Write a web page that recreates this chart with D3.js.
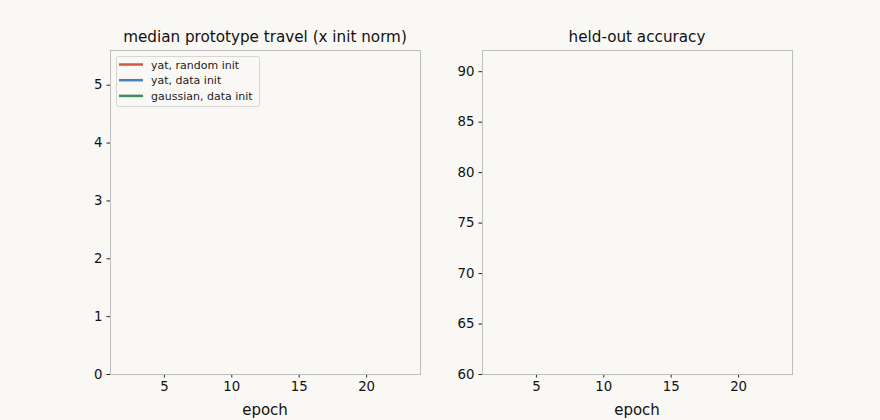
<!DOCTYPE html>
<html>
<head>
<meta charset="utf-8">
<script src="https://cdn.jsdelivr.net/npm/d3@7"></script>
<style>
  body { margin: 0; background: #f9f8f5; }
  svg { display: block; font-family: "DejaVu Sans", sans-serif; }
  .tick text { font-size: 13.3px; fill: #111; font-family: "DejaVu Sans", sans-serif; }
  .tick line { stroke: #222; }
</style>
</head>
<body>
<div id="chart"></div>
<script>
// the reference shows empty axes: the series have no visible points
var seriesNames = ['yat, random init', 'yat, data init', 'gaussian, data init'];
var seriesColors = ['#cc5a3c', '#4a80bd', '#3d8b5f'];

var epochDomain = [1, 24];
var epochTicks = [5, 10, 15, 20];

var travelDomain = [0, 5.6];
var travelTicks = [0, 1, 2, 3, 4, 5];
var accDomain = [60, 92.1];
var accTicks = [60, 65, 70, 75, 80, 85, 90];

// one array of {epoch, value} per series, none visible in the picture
var travelSeries = [[], [], []];
var accSeries = [[], [], []];

var width = 880, height = 420;

var svg = d3.select('#chart').append('svg')
  .attr('width', width)
  .attr('height', height);

svg.append('rect').attr('width', width).attr('height', height).attr('fill', '#f9f8f5');

function drawPanel(left, title, yDomain, yTicks, series, withLegend) {
  var top = 50, w = 310, h = 324;

  var x = d3.scaleLinear().domain(epochDomain).range([0, w]);
  var y = d3.scaleLinear().domain(yDomain).range([h, 0]);

  var g = svg.append('g').attr('transform', 'translate(' + left + ',' + top + ')');

  var line = d3.line()
    .x(function(d) { return x(d.epoch); })
    .y(function(d) { return y(d.value); });

  series.forEach(function(s, i) {
    if (s.length === 0) return;
    g.append('path')
      .attr('d', line(s))
      .attr('fill', 'none')
      .attr('stroke', seriesColors[i])
      .attr('stroke-width', 2);
  });

  var xAxis = g.append('g')
    .attr('transform', 'translate(0,' + h + ')')
    .call(d3.axisBottom(x).tickValues(epochTicks).tickSize(3.5).tickPadding(4));
  xAxis.select('.domain').remove();

  var yAxis = g.append('g')
    .call(d3.axisLeft(y).tickValues(yTicks).tickSize(3.5).tickPadding(4).tickFormat(d3.format('d')));
  yAxis.select('.domain').remove();

  g.append('rect')
    .attr('x', 0.5).attr('y', 0.5).attr('width', w).attr('height', h)
    .attr('fill', 'none')
    .attr('stroke', '#bdbdbd')
    .attr('stroke-width', 1);

  g.append('text')
    .attr('x', w / 2).attr('y', -8)
    .attr('text-anchor', 'middle')
    .attr('font-size', 15.2)
    .attr('fill', '#111')
    .text(title);

  g.append('text')
    .attr('x', w / 2).attr('y', h + 41)
    .attr('text-anchor', 'middle')
    .attr('font-size', 15)
    .attr('fill', '#111')
    .text('epoch');

  if (withLegend) {
    var lg = g.append('g').attr('transform', 'translate(6,6)');
    lg.append('rect')
      .attr('x', 0.5).attr('y', 0.5).attr('width', 143).attr('height', 50)
      .attr('rx', 2)
      .attr('fill', '#f9f8f5')
      .attr('stroke', '#d6d6d6');
    seriesNames.forEach(function(name, i) {
      var yy = 8.5 + i * 15.7;
      lg.append('line')
        .attr('x1', 3).attr('x2', 27)
        .attr('y1', yy).attr('y2', yy)
        .attr('stroke', seriesColors[i])
        .attr('stroke-width', 2.5);
      lg.append('text')
        .attr('x', 35).attr('y', yy + 4)
        .attr('font-size', 11)
        .attr('fill', '#222')
        .text(name);
    });
  }
}

drawPanel(110, 'median prototype travel (x init norm)', travelDomain, travelTicks, travelSeries, true);
drawPanel(482, 'held-out accuracy', accDomain, accTicks, accSeries, false);
</script>
</body>
</html>
